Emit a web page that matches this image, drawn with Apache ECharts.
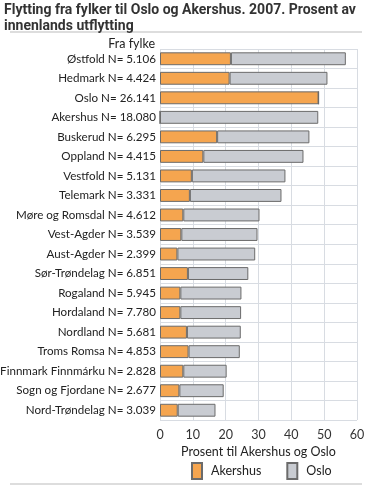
<!DOCTYPE html>
<html><head><meta charset="utf-8">
<script src="https://cdn.jsdelivr.net/npm/echarts@6/dist/echarts.min.js"></script>
<style>html,body{margin:0;padding:0;background:#fff}#c{width:367px;height:486px}</style>
</head><body><div id="c"></div>
<script>
const categories = ["Østfold N= 5.106","Hedmark N= 4.424","Oslo N= 26.141","Akershus N= 18.080","Buskerud N= 6.295","Oppland N= 4.415","Vestfold N= 5.131","Telemark N= 3.331","Møre og Romsdal N= 4.612","Vest-Agder N= 3.539","Aust-Agder N= 2.399","Sør-Trøndelag N= 6.851","Rogaland N= 5.945","Hordaland N= 7.780","Nordland N= 5.681","Troms Romsa N= 4.853","Finnmark Finnmárku N= 2.828","Sogn og Fjordane N= 2.677","Nord-Trøndelag N= 3.039"];
const akershus = [21.6,21.2,48.3,0,17.4,13.2,9.7,9.1,7.1,6.5,5.3,8.5,6.2,6.2,8.2,8.7,7.1,5.9,5.4];
const oslo = [35.0,29.8,0,48.2,28.1,30.5,28.5,27.9,23.2,23.2,23.7,18.4,18.6,18.5,16.4,15.6,13.2,13.5,11.5];
const xTicks = [0,10,20,30,40,50,60];
const seriesNames = ["Akershus","Oslo"];
const titleText = "Flytting fra fylker til Oslo og Akershus. 2007. Prosent av\ninnenlands utflytting";
const yAxisName = "Fra fylke";
const xAxisName = "Prosent til Akershus og Oslo";

const FONT = "Lato";
const chart = echarts.init(document.getElementById('c'), null, {renderer:'canvas'});
chart.setOption({
  animation:false,
  textStyle:{fontFamily:FONT},
  title:{text:titleText,left:4,top:2,padding:0,textStyle:{fontFamily:'Roboto',fontSize:14,fontWeight:'bold',color:'#333',lineHeight:16}},
  graphic:[
    {type:'line',shape:{x1:10,y1:32,x2:362,y2:32},style:{stroke:'#bbb',lineWidth:1}},
    {type:'line',shape:{x1:10,y1:484,x2:362,y2:484},style:{stroke:'#bbb',lineWidth:1}},
    {type:'text',x:155,y:44,style:{text:yAxisName,font:'12.5px Lato',fill:'#222',textAlign:'right',textVerticalAlign:'middle'}}
  ],
  legend:{data:seriesNames,left:191,top:462,padding:0,itemWidth:10,itemHeight:16,itemGap:25,
    textStyle:{fontFamily:FONT,fontSize:12.5,color:'#222',padding:[0,0,0,4]},icon:'rect'},
  grid:{left:160,right:10,top:49,height:371,containLabel:false,outerBoundsMode:'none'},
  xAxis:{type:'value',min:0,max:60,interval:10,
    name:xAxisName,nameLocation:'middle',nameGap:25,
    nameTextStyle:{fontFamily:FONT,fontSize:12.5,color:'#222'},
    axisLine:{show:false},axisTick:{show:false},
    axisLabel:{fontSize:12.5,color:'#333',margin:8,formatter:v=>xTicks.includes(v)?String(v):''},
    splitLine:{show:true,lineStyle:{color:'#d8dce2',width:1}}},
  yAxis:{type:'category',data:categories,inverse:true,
    axisLine:{show:false},axisTick:{show:false},
    axisLabel:{fontSize:11.6,color:'#222',margin:4},
    splitLine:{show:true,lineStyle:{color:'#d8dce2',width:1}}},
  series:[
    {name:seriesNames[0],type:'bar',stack:'a',data:akershus,barWidth:'66%',
     itemStyle:{color:'#f5a54f',borderColor:'#6b6b6b',borderWidth:1}},
    {name:seriesNames[1],type:'bar',stack:'a',data:oslo,barWidth:'66%',
     itemStyle:{color:'#c9ccd2',borderColor:'#6b6b6b',borderWidth:1}}
  ]
});
</script></body></html>
